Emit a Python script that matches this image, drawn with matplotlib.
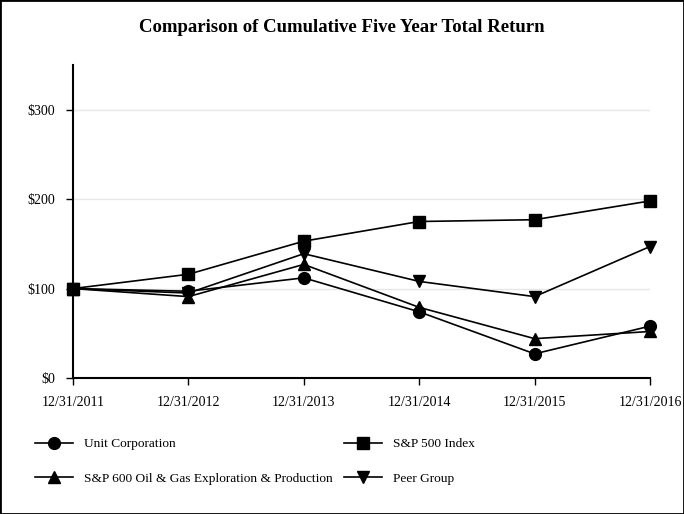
import matplotlib.pyplot as plt
from matplotlib.patches import Rectangle

plt.rcParams['font.family'] = ['Liberation Serif', 'DejaVu Serif']

years = ["12/31/2011", "12/31/2012", "12/31/2013", "12/31/2014", "12/31/2015", "12/31/2016"]
unit_corp = [100, 97, 112, 74, 27, 58]
sp500 = [100, 116, 153, 175, 177, 198]
sp600_oil = [100, 91, 127, 79, 44, 52]
peer_group = [100, 95, 139, 108, 91, 147]
y_ticks = [0, 100, 200, 300]
y_labels = ["$0", "$100", "$200", "$300"]

fig = plt.figure(figsize=(6.84, 5.14), dpi=100)
ax = fig.add_axes([73/684, 1-378/514, (650-73)/684, (378-65)/514])

x = list(range(len(years)))
for yv in y_ticks[1:]:
    ax.axhline(yv, color='#e6e6e6', lw=1, zorder=0)

h1, = ax.plot(x, unit_corp, color='black', lw=1.2, marker='o', ms=8.5, clip_on=False, label="Unit Corporation")
h2, = ax.plot(x, sp500, color='black', lw=1.2, marker='s', ms=8.5, clip_on=False, label="S&P 500 Index")
h3, = ax.plot(x, sp600_oil, color='black', lw=1.2, marker='^', ms=8.5, clip_on=False,
              label="S&P 600 Oil & Gas Exploration & Production")
h4, = ax.plot(x, peer_group, color='black', lw=1.2, marker='v', ms=8.5, clip_on=False, label="Peer Group")

ax.set_xlim(0, 5)
ax.set_ylim(0, 350)
ax.set_xticks(x)
ax.set_xticklabels(years, fontsize=10)
ax.set_yticks(y_ticks)
ax.set_yticklabels(y_labels, fontsize=10)
ax.spines['top'].set_visible(False)
ax.spines['right'].set_visible(False)
ax.spines['left'].set_linewidth(1.5)
ax.spines['bottom'].set_linewidth(1.5)
ax.tick_params(direction='out', length=5, width=1, pad=8)

fig.text(0.5, 1-28/514, "Comparison of Cumulative Five Year Total Return",
         ha='center', va='center', fontsize=13.5, fontweight='bold')

fig.legend([h1, h3, h2, h4], [h1.get_label(), h3.get_label(), h2.get_label(), h4.get_label()],
           ncol=2, loc='upper left', bbox_to_anchor=(35/684, 1-438/514), frameon=False,
           borderpad=0, borderaxespad=0,
           fontsize=9.6, handlelength=2.85, handletextpad=0.85, columnspacing=0.8,
           labelspacing=1.65)

fig.patches.append(Rectangle((0, 0), 1, 1, transform=fig.transFigure, fill=False,
                             edgecolor='black', lw=2))

fig.savefig("out.png", dpi=100)
